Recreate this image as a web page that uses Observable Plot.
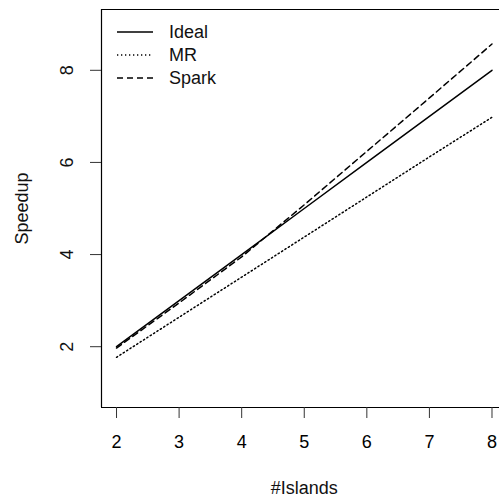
<!DOCTYPE html>
<html><head><meta charset="utf-8">
<script src="https://cdn.jsdelivr.net/npm/d3@7"></script>
<script src="https://cdn.jsdelivr.net/npm/@observablehq/plot@0.6"></script>
<style>
html,body{margin:0;padding:0;background:#fff;overflow:hidden}
</style></head><body>
<div id="wrap"></div>
<script>
// ---- data ----
const islands = [2, 3, 4, 5, 6, 7, 8];
const ideal = [2, 3, 4, 5, 6, 7, 8];
const mr = [1.77, 2.64, 3.51, 4.38, 5.25, 6.12, 6.98];
const spark = [1.97, 2.95, 3.95, 5.08, 6.24, 7.4, 8.57];
const seriesNames = ["Ideal", "MR", "Spark"];
const xTicks = [2, 3, 4, 5, 6, 7, 8];
const yTicks = [2, 4, 6, 8];
const xLabel = "#Islands";
const yLabel = "Speedup";

// ---- styling ----
const font = "'Liberation Sans', Arial, Helvetica, sans-serif";
const dashes = {Ideal: null, MR: "1.3,2.7", Spark: "6,4"};
const valuesBy = {Ideal: ideal, MR: mr, Spark: spark};
const rows = seriesNames.flatMap(s => islands.map((x, i) => ({series: s, x, y: valuesBy[s][i]})));

const xDom = [1.76, 8.12];
const yDom = [0.68, 9.32];
const xMid = (xTicks[0] + xTicks[xTicks.length - 1]) / 2;
const yMid = (yDom[0] + yDom[1]) / 2;

const plot = Plot.plot({
  width: 499, height: 497,
  marginLeft: 101, marginRight: 0, marginTop: 9, marginBottom: 90,
  style: {fontFamily: font, fontSize: "18px", color: "#000", background: "#fff"},
  x: {domain: xDom},
  y: {domain: yDom},
  marks: [
    Plot.ruleY([yDom[0], yDom[1]], {stroke: "#000", strokeWidth: 1.2}),
    Plot.ruleX([xDom[0]], {stroke: "#000", strokeWidth: 1.2}),
    Plot.axisX({ticks: xTicks, tickSize: 11, tickPadding: 17, label: null, tickFormat: d => String(d), fontSize: 18, stroke: "#333"}),
    Plot.axisY({ticks: yTicks, tickSize: 11, tickFormat: () => "", label: null, stroke: "#333"}),
    Plot.text(yTicks, {y: d => d, text: d => String(d), frameAnchor: "left", dx: -34, rotate: -90, textAnchor: "middle", lineAnchor: "middle", fontSize: 18, fill: "#111"}),
    Plot.text([yLabel], {y: () => yMid, text: d => d, frameAnchor: "left", dx: -79, rotate: -90, textAnchor: "middle", lineAnchor: "middle", fontSize: 18, fill: "#111"}),
    Plot.text([xLabel], {x: () => xMid, text: d => d, frameAnchor: "bottom", dy: 81, textAnchor: "middle", lineAnchor: "middle", fontSize: 18, fill: "#111"}),
    ...seriesNames.map(s => Plot.line(rows.filter(r => r.series === s), {
      x: "x", y: "y", stroke: "#000", strokeWidth: 1.5,
      strokeDasharray: dashes[s] || undefined
    }))
  ]
});

// legend (drawn from series names)
const svg = d3.select(plot);
const lg = svg.append("g").attr("font-family", font).attr("font-size", 18).attr("text-anchor", "start");
seriesNames.forEach((s, i) => {
  const yy = 32 + i * 23;
  lg.append("line").attr("x1", 117).attr("x2", 153).attr("y1", yy).attr("y2", yy)
    .attr("stroke", "#000").attr("stroke-width", 1.5)
    .attr("stroke-dasharray", dashes[s] || null);
  lg.append("text").attr("x", 169).attr("y", yy).attr("dy", "0.35em").attr("fill", "#111").text(s);
});

document.getElementById("wrap").appendChild(plot);
</script>
</body></html>
